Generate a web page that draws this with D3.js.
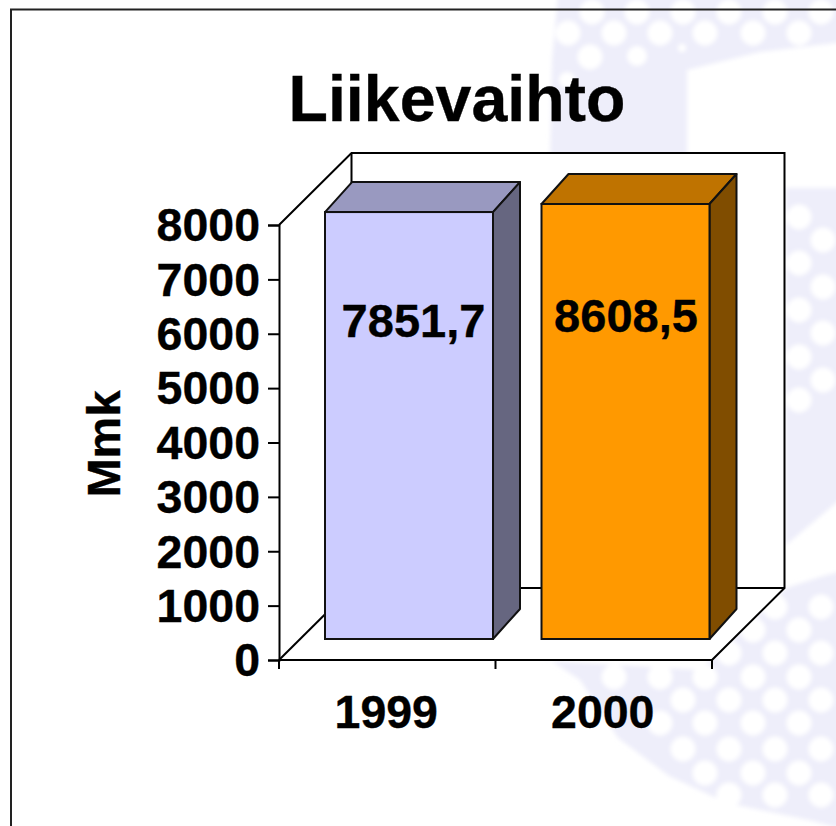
<!DOCTYPE html>
<html><head><meta charset="utf-8">
<style>html,body{margin:0;padding:0;background:#fff;overflow:hidden}svg{display:block}
text{font-family:"Liberation Sans",Arial,sans-serif;font-weight:700;fill:#000;stroke:#000;stroke-width:.35px;paint-order:stroke}</style>
<script src="https://cdnjs.cloudflare.com/ajax/libs/d3/7.8.5/d3.min.js"></script></head>
<body><script>
const years = ["1999", "2000"];
const values = [7851.7, 8608.5];
const valueLabels = ["7851,7", "8608,5"];
const yTicks = [0, 1000, 2000, 3000, 4000, 5000, 6000, 7000, 8000];
const frontColors = ["#ccccff", "#ff9900"];
const topColors = ["#9999c0", "#bf7300"];
const sideColors = ["#666680", "#804d00"];

const W = 836, H = 826;
const svg = d3.select("body").append("svg").attr("width", W).attr("height", H);
const y = d3.scaleLinear().domain([0, 8000]).range([660, 225]).clamp(true);
const x = d3.scaleBand().domain(years).range([279, 712]);
const wallDx = 72.5, wallDy = 72;
const barW = 168, barInset = 46, floorGap = 21, depthX = 27, depthY = 30;
const line = d3.line();

// faint watermark behind the chart
const defs = svg.append("defs");
defs.append("filter").attr("id", "soft").attr("x", "-5%").attr("y", "-5%").attr("width", "110%").attr("height", "110%")
  .append("feGaussianBlur").attr("stdDeviation", 2);
const bg = svg.append("g").attr("filter", "url(#soft)");
const shapes = [
  [[558,-5],[552,60],[550,160],[687,160],[687,70],[760,52],[845,42],[845,-5]],
  [[786,188],[845,188],[845,497],[836,503],[786,545]],
  [[540,660],[550,660],[580,680],[618,738],[669,776],[727,803],[813,821],[845,830],[845,570],[820,577],[786,588],[700,670]]
];
bg.selectAll("path.blob").data(shapes).join("path").attr("class", "blob")
  .attr("d", d => line(d) + "Z").attr("fill", "#eeeefa");
const evenCols = [592, 637, 683, 729, 775, 821];
const oddCols = [568, 614, 660, 705, 753, 799, 845];
const R0 = 12.5;
const dotRows = [
  [12, evenCols, R0], [33, oddCols.slice(0, 6), R0], [57, [590], R0], [56, [637], 10], [48, [682], 4], [80, [567], 8],
  [217, [799], R0], [240, [823], R0], [263, [799], R0], [287, [823], R0], [310, [799], R0], [333, [823], R0],
  [357, [799], R0], [380, [823], R0], [400, [799], R0],
  [607, [775, 821], R0], [630, [753, 799], R0], [653, [729, 775, 821], R0],
  [677, [614, 660, 705, 753, 799], R0], [700, [683, 729, 775, 821], R0], [723, [660, 705, 753, 799], R0],
  [749, [683, 729, 775, 821], R0], [773, [705, 753, 799], R0], [795, [729, 775, 821], R0]
];
dotRows.forEach(([cy, xs, r]) => {
  bg.append("g").selectAll("circle").data(xs).join("circle")
    .attr("cx", d => d).attr("cy", cy).attr("r", r).attr("fill", "#fff");
});

// slide frame
svg.append("path").attr("d", line([[11, H], [11, 9.5], [W, 9.5]]))
  .attr("fill", "none").attr("stroke", "#222").attr("stroke-width", 2);

// title
svg.append("text").attr("x", 457).attr("y", 121).attr("text-anchor", "middle")
  .attr("font-size", 64.5).text("Liikevaihto");

// 3D box
const x0 = x.range()[0], x1 = x.range()[1], yB = y(0), yT = y(8000);
const stroke = "#000", lw = 2;
svg.append("path")
  .attr("d", line([[x0,yT],[x0+wallDx,yT-wallDy],[x1+wallDx,yT-wallDy],[x1+wallDx,yB-wallDy],[x1,yB],[x0,yB]]) + "Z")
  .attr("fill", "#fff").attr("stroke", "none");
svg.append("path")
  .attr("d", line([[x0,yT],[x0+wallDx,yT-wallDy],[x1+wallDx,yT-wallDy],[x1+wallDx,yB-wallDy],[x1,yB]]))
  .attr("fill", "none").attr("stroke", stroke).attr("stroke-width", lw);
svg.append("path")
  .attr("d", line([[x0+wallDx,yT-wallDy],[x0+wallDx,yB-wallDy],[x1+wallDx,yB-wallDy]]))
  .attr("fill", "none").attr("stroke", stroke).attr("stroke-width", lw);
svg.append("path")
  .attr("d", line([[x0,yB],[x0+wallDx,yB-wallDy]]))
  .attr("fill", "none").attr("stroke", stroke).attr("stroke-width", lw);

// bars
const bars = svg.append("g").selectAll("g").data(years).join("g");
const faceStroke = "#111";
bars.each(function (yr, i) {
  const g = d3.select(this);
  const L = x(yr) + barInset, R = L + barW;
  const base = y(0) - floorGap, top = y(values[i]) - floorGap;
  g.append("path").attr("d", line([[L,top],[L+depthX,top-depthY],[R+depthX,top-depthY],[R,top]]) + "Z")
    .attr("fill", topColors[i]).attr("stroke", faceStroke).attr("stroke-width", lw).attr("stroke-linejoin", "round");
  g.append("path").attr("d", line([[R,top],[R+depthX,top-depthY],[R+depthX,base-depthY],[R,base]]) + "Z")
    .attr("fill", sideColors[i]).attr("stroke", faceStroke).attr("stroke-width", lw).attr("stroke-linejoin", "round");
  g.append("rect").attr("x", L).attr("y", top).attr("width", barW).attr("height", base - top)
    .attr("fill", frontColors[i]).attr("stroke", faceStroke).attr("stroke-width", lw);
});

// value labels
const labelX = [413.5, 626], labelY = [337, 332];
svg.append("g").selectAll("text").data(valueLabels).join("text")
  .attr("x", (d, i) => labelX[i]).attr("y", (d, i) => labelY[i])
  .attr("text-anchor", "middle").attr("font-size", 47).text(d => d);

// axes
const yAxis = svg.append("g").attr("transform", `translate(${x0},0)`)
  .call(d3.axisLeft(y).tickValues(yTicks).tickFormat(d3.format("d")).tickSize(11).tickPadding(8));
yAxis.select(".domain").attr("stroke", "#000").attr("stroke-width", lw);
yAxis.selectAll(".tick line").attr("stroke", "#000").attr("stroke-width", lw);
yAxis.selectAll("text").attr("font-size", 46.5).attr("font-family", '"Liberation Sans",Arial,sans-serif').attr("dy", "0.34em");

const xTicks = [x0, x(years[1]), x1];
const xAxisG = svg.append("g");
xAxisG.append("path").attr("d", line([[x0, yB], [x1, yB]])).attr("stroke", "#000").attr("stroke-width", lw);
xAxisG.selectAll("path.t").data(xTicks).join("path").attr("class", "t")
  .attr("d", d => line([[d, yB], [d, yB + 9]])).attr("stroke", "#000").attr("stroke-width", lw);
xAxisG.selectAll("text").data(years).join("text")
  .attr("x", d => x(d) + x.bandwidth() / 2 - 1).attr("y", 728)
  .attr("text-anchor", "middle").attr("font-size", 46.5).text(d => d);

// y title
svg.append("text").attr("transform", "translate(120,444) rotate(-90)")
  .attr("text-anchor", "middle").attr("font-size", 47).text("Mmk");
</script></body></html>
